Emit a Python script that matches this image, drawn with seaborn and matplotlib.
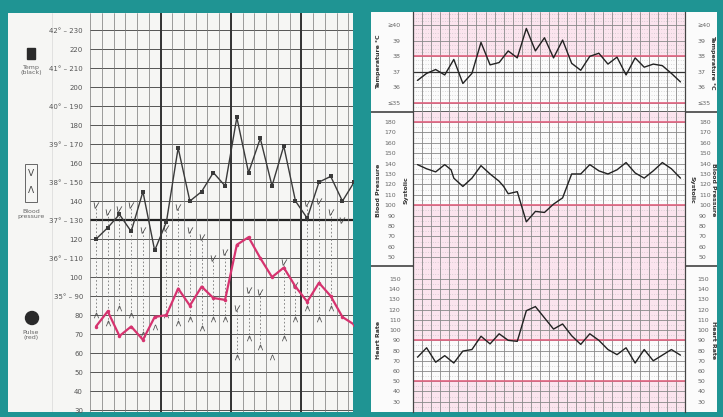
import numpy as np
import matplotlib
matplotlib.use("Agg")
import matplotlib.pyplot as plt
from matplotlib.patches import Rectangle, Circle
import seaborn as sns

sns.set_style("white")
plt.rcParams['font.family'] = ['DejaVu Sans']

# ---- left chart (paper observation chart), one value per column ----
left_cols = list(range(23))
left_temp = [120, 126, 133, 124, 145, 114, 129, 168, 140, 145, 155, 148, 184, 155,
             173, 148, 169, 140, 131, 150, 153, 140, 150]
left_pulse = [74, 82, 69, 74, 67, 79, 80, 94, 85, 95, 89, 88, 117, 121,
              110, 100, 105, 95, 87, 97, 90, 79, 75]
left_sys = [138, 134, 136, 138, 125, np.nan, 126, 137, 125, 121, 110, 113, 84, 93,
            92, np.nan, 108, 96, 139, 140, 134, 130, np.nan]
left_dia = [80, 76, 84, 80, 70, 74, 80, 76, 78, 73, 78, 78, 58, 68,
            63, 58, 68, 78, 84, 78, 84, np.nan, np.nan]
left_ticks = list(range(30, 240, 10))
left_labels = ['30', '40', '50', '60', '70', '80', '35° – 90', '100', '36° – 110', '120',
               '37° – 130', '140', '38° – 150', '160', '39° – 170', '180', '40° – 190',
               '200', '41° – 210', '220', '42° – 230']

# ---- right chart (printed obs chart), 30 columns ----
cols = list(range(30))
temp = [36.45, 36.9, 37.15, 36.8, 37.8, 36.25, 36.9, 38.9, 37.45, 37.6, 38.35, 37.9,
        39.8, 38.35, 39.2, 37.9, 39.05, 37.55, 37.1, 38.0, 38.2, 37.5, 37.95, 36.8,
        37.9, 37.3, 37.5, 37.4, 36.9, 36.35]
bp_x = [0, 1, 2, 3, 3.7, 4, 5, 6, 7, 8, 9, 9.5, 10, 11, 12, 13, 14, 15, 16, 17, 18,
        19, 20, 21, 22, 23, 24, 25, 26, 27, 28, 29]
bp_sys = [139, 135, 132, 139, 134, 126, 118, 126, 138, 130, 123, 118, 111, 113, 84, 94,
          93, 101, 107, 130, 130, 139, 133, 130, 134, 141, 131, 126, 133, 141, 135, 126]
hr = [73.5, 82.7, 68.6, 75, 67.8, 79.5, 81, 94, 86.5, 96.4, 90, 89, 119, 123, 112, 101,
      106, 94.5, 86, 96.4, 90, 81, 76, 82.7, 67.8, 81, 70, 75.5, 81, 75.5]
temp_ticks = [35, 36, 37, 38, 39, 40]
temp_labels = ['≤35', '36', '37', '38', '39', '≥40']
bp_ticks = list(range(50, 190, 10))
hr_ticks = list(range(30, 160, 10))

TEAL = '#1f9493'
PINK = '#fbe4ee'
RED = '#e0627f'
W, H = 723, 417


def box(x0, y0, x1, y1):
    return [x0 / W, 1 - y1 / H, (x1 - x0) / W, (y1 - y0) / H]


fig = plt.figure(figsize=(7.23, 4.17), dpi=100, facecolor=TEAL)

# left paper
paper = fig.add_axes(box(8, 13, 353, 412))
paper.set_xlim(8, 353)
paper.set_ylim(412, 13)
paper.axis('off')
paper.add_patch(Rectangle((8, 13), 345, 399, color='#f6f6f4', zorder=0))
paper.axvline(52, color='#dddddd', lw=0.6)
paper.add_patch(Rectangle((27, 48), 8, 11, color='#2a2a2a'))
paper.text(31, 70, 'Temp\n(black)', ha='center', va='center', fontsize=4.5, color='#666', linespacing=0.9)
paper.add_patch(Rectangle((25, 164), 12, 38, fill=False, ec='#666', lw=0.7))
paper.text(31, 174, 'V', ha='center', va='center', fontsize=6.5, color='#444')
paper.text(31, 191, 'Λ', ha='center', va='center', fontsize=6.5, color='#444')
paper.text(31, 214, 'Blood\npressure', ha='center', va='center', fontsize=4.5, color='#666', linespacing=0.9)
paper.add_patch(Circle((32, 318), 6.5, color='#2a2a2a'))
paper.text(31, 335, 'Pulse\n(red)', ha='center', va='center', fontsize=4.5, color='#666', linespacing=0.9)

ax = fig.add_axes(box(90, 13, 353, 412), facecolor='none')
ax.set_xlim(-0.51, 21.9)
ax.set_ylim(29, 239)
for y in left_ticks:
    ax.axhline(y, color='#555', lw=0.7, zorder=1)
ax.axhline(130, color='#222', lw=1.6, zorder=1)
for b in np.arange(-0.5, 22, 1):
    ax.axvline(b, color='#777', lw=0.5, zorder=1)
for b in [5.5, 11.5, 17.5]:
    ax.axvline(b, color='#333', lw=1.4, zorder=1)
ax.vlines(left_cols, left_dia, left_sys, colors='#777', lw=0.6, linestyles=(0, (2, 2.5)), zorder=2)
sns.scatterplot(x=left_cols, y=left_sys, marker='$V$', s=20, color='#444', linewidth=0, ax=ax, zorder=3)
sns.scatterplot(x=left_cols, y=left_dia, marker='$\\Lambda$', s=16, color='#444', linewidth=0, ax=ax, zorder=3)
sns.lineplot(x=left_cols, y=left_temp, color='#3a3a3a', lw=1, marker='s', markersize=3,
             markeredgewidth=0, ax=ax, zorder=4)
sns.lineplot(x=left_cols, y=left_pulse, color='#d6336f', lw=1.6, marker='o', markersize=2.5,
             markeredgewidth=0, ax=ax, zorder=4)
ax.set_xticks([])
ax.set_yticks(left_ticks)
ax.set_yticklabels(left_labels)
ax.tick_params(axis='y', length=4, width=0.7, color='#555', labelsize=5, labelcolor='#555', pad=1)
for s in ax.spines.values():
    s.set_visible(False)
ax.set_xlabel('')
ax.set_ylabel('')

# right paper
rp = fig.add_axes(box(371, 12, 717, 412))
rp.set_xlim(371, 717)
rp.set_ylim(412, 12)
rp.axis('off')
rp.add_patch(Rectangle((371, 12), 346, 400, color='#fbfbfb', zorder=0))
rp.hlines([112, 266], 371, 717, colors='#333', lw=1.1)


def panel(rect, lo, hi, ticks, labels, pink, reds, black=None, minor=5, lpad=9, rpad=9):
    a = fig.add_axes(box(*rect), facecolor='none')
    a.set_xlim(-0.5, 29.5)
    a.set_ylim(lo, hi)
    for p0, p1 in pink:
        a.axhspan(p0, p1, color=PINK, lw=0, zorder=0)
    for y in np.arange(ticks[0] - minor, hi, minor):
        a.axhline(y, color='#bbbbbb', lw=0.5, ls=(0, (1, 2.5)), zorder=1)
    for y in ticks:
        a.axhline(y, color='#8a8a8a', lw=0.6, zorder=1)
    for b in np.arange(-0.5, 30, 1):
        a.axvline(b, color='#8a8a8a', lw=0.6, zorder=1)
    for y in reds:
        a.axhline(y, color=RED, lw=1.2, zorder=2)
    if black is not None:
        a.axhline(black, color='#333', lw=0.9, zorder=2)
    a.set_xticks([])
    a.set_yticks(ticks)
    a.set_yticklabels(labels)
    a.tick_params(axis='y', length=0, labelsize=4.5, labelcolor='#666', pad=lpad,
                  labelleft=True, labelright=False)
    sec = a.secondary_yaxis('right')
    sec.set_yticks(ticks)
    sec.set_yticklabels(labels)
    sec.tick_params(length=0, labelsize=4.5, labelcolor='#666', pad=rpad)
    sec.spines['right'].set_visible(False)
    for k in ['top', 'bottom']:
        a.spines[k].set_visible(False)
    for k in ['left', 'right']:
        a.spines[k].set_color('#444')
        a.spines[k].set_linewidth(0.9)
    return a


ax_t = panel((413, 12, 685, 112), 34.41, 40.86, temp_ticks, temp_labels,
             [(38, 40.86)], [38, 35], black=37, minor=0.25)
sns.lineplot(x=cols, y=temp, color='#222', lw=1, ax=ax_t, zorder=4)

ax_b = panel((413, 112, 685, 266), 41.5, 189.6, bp_ticks, [str(v) for v in bp_ticks],
             [(180, 189.6), (41.5, 100)], [180, 100], lpad=12.5, rpad=10)
sns.lineplot(x=bp_x, y=bp_sys, color='#222', lw=1, ax=ax_b, zorder=4)

ax_h = panel((413, 266, 685, 412), 19.9, 162.7, hr_ticks, [str(v) for v in hr_ticks],
             [(90, 162.7), (19.9, 50)], [90, 50])
sns.lineplot(x=cols, y=hr, color='#222', lw=1, ax=ax_h, zorder=4)

for a in [ax_t, ax_b, ax_h]:
    a.set_xlabel('')
    a.set_ylabel('')


def vtext(x, y, s, rot):
    fig.text(x / W, 1 - y / H, s, rotation=rot, ha='center', va='center',
             fontsize=4.5, fontweight='bold', color='#333')


vtext(379, 62, 'Temperature °C', 90)
vtext(713, 62, 'Temperature °C', 270)
vtext(379, 190, 'Blood Pressure', 90)
vtext(406, 190, 'Systolic', 90)
vtext(692, 190, 'Systolic', 270)
vtext(714, 190, 'Blood Pressure', 270)
vtext(379, 340, 'Heart Rate', 90)
vtext(713, 340, 'Heart Rate', 270)

fig.savefig('out.png', dpi=100, facecolor=TEAL)
